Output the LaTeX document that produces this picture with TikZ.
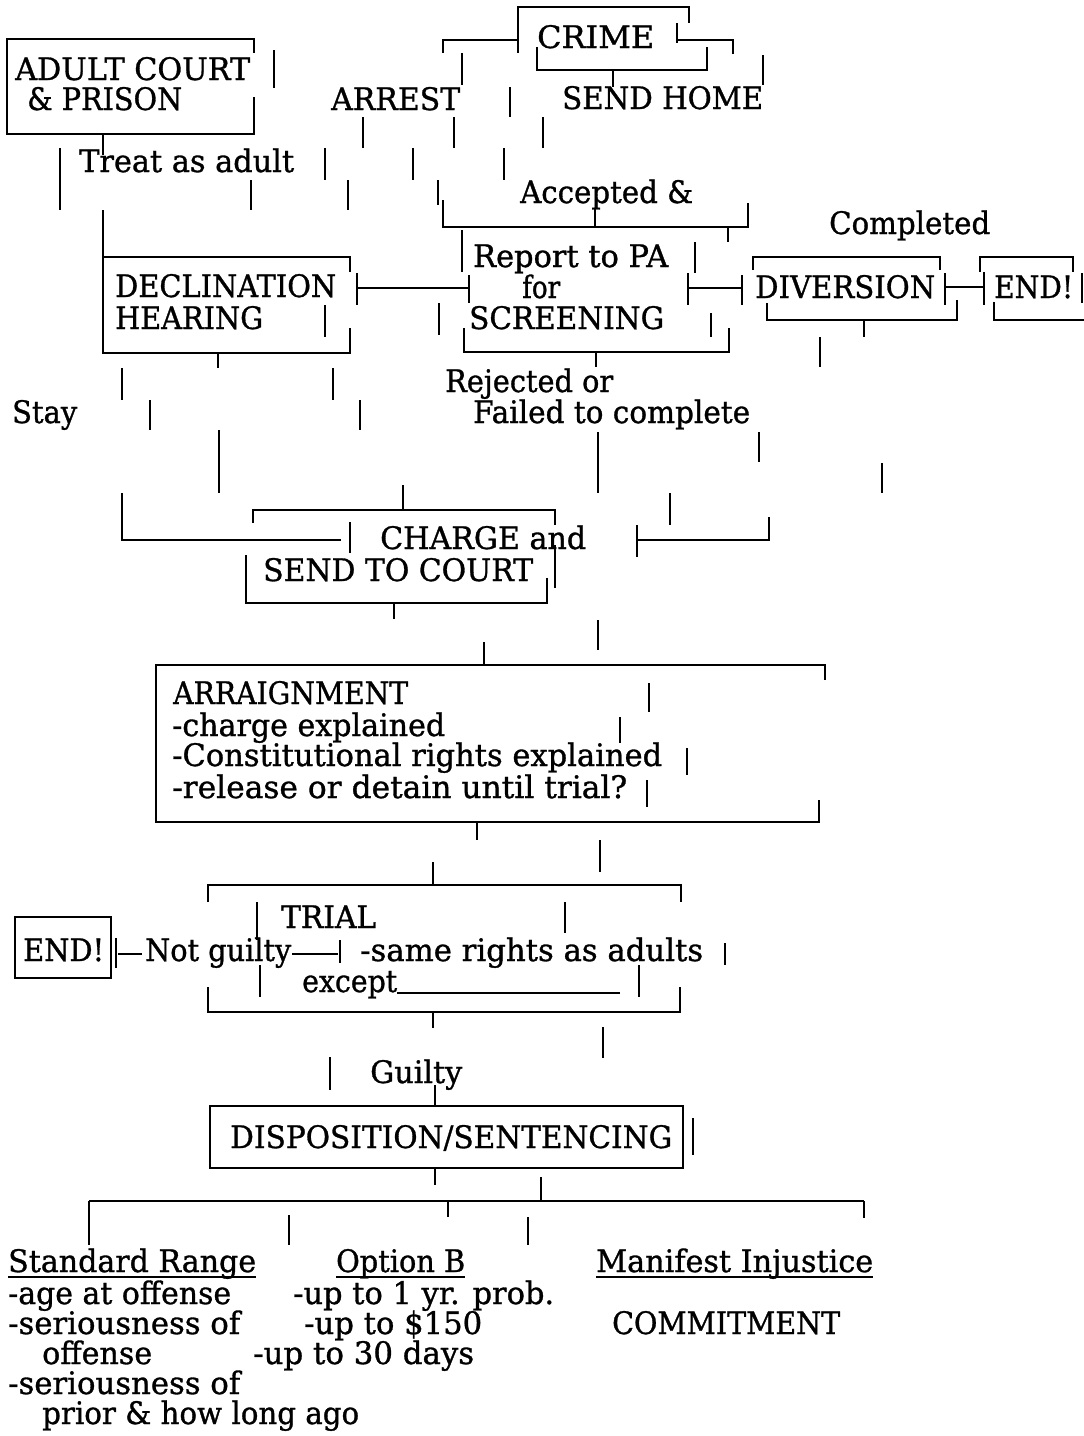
\documentclass[tikz,border=0pt]{standalone}
\usepackage{fontspec}
\setmainfont[FakeBold=1.0]{DejaVu Serif}
\usepackage{graphicx}
\newcommand\tx[2]{\resizebox{#1pt}{\height}{#2}}
\begin{document}
\begin{tikzpicture}[x=1pt,y=-1pt,
  ln/.style={line width=1.7pt,line cap=butt,line join=miter},
  txt/.style={anchor=base west,inner sep=0pt,font=\fontsize{31}{36}\selectfont}]
\useasboundingbox (0,0) rectangle (1084,1436);
\fill[white] (0,0) rectangle (1084,1436);
% ---------- texts ----------
\node[txt] (crime) at (537,48) {\tx{117}{CRIME}};
\node[txt] (adult1) at (15,80) {\tx{235}{ADULT COURT}};
\node[txt] (adult2) at (27,110) {\tx{155}{\& PRISON}};
\node[txt] (arrest) at (331,110) {\tx{129}{ARREST}};
\node[txt] (sendhome) at (562,109) {\tx{201}{SEND HOME}};
\node[txt] (treat) at (79,172) {\tx{215}{Treat as adult}};
\node[txt] (accepted) at (520,203) {\tx{173}{Accepted \&}};
\node[txt] (completed) at (829,234) {\tx{161}{Completed}};
\node[txt] (report1) at (473,267) {\tx{195}{Report to PA}};
\node[txt] (report2) at (522,298) {\tx{38}{for}};
\node[txt] (report3) at (469,329) {\tx{195}{SCREENING}};
\node[txt] (decl1) at (115,297) {\tx{221}{DECLINATION}};
\node[txt] (decl2) at (115,329) {\tx{148}{HEARING}};
\node[txt] (diversion) at (755,298) {\tx{180}{DIVERSION}};
\node[txt] (end1) at (994,298) {\tx{79}{END!}};
\node[txt] (rejected1) at (445,392) {\tx{168}{Rejected or}};
\node[txt] (rejected2) at (473,423) {\tx{277}{Failed to complete}};
\node[txt] (stay) at (12,423) {\tx{65}{Stay}};
\node[txt] (charge1) at (380,549) {\tx{206}{CHARGE and}};
\node[txt] (charge2) at (263,581) {\tx{270}{SEND TO COURT}};
\node[txt] (arr1) at (173,704) {\tx{235}{ARRAIGNMENT}};
\node[txt] (arr2) at (172,736) {\tx{273}{-charge explained}};
\node[txt] (arr3) at (172,766) {\tx{490}{-Constitutional rights explained}};
\node[txt] (arr4) at (172,798) {\tx{455}{-release or detain until trial?}};
\node[txt] (trial1) at (281,928) {\tx{95}{TRIAL}};
\node[txt] (trial2) at (360,961) {\tx{343}{-same rights as adults}};
\node[txt] (trial3) at (302,992) {\tx{95}{except}};
\node[txt] (notguilty) at (145,961) {\tx{146}{Not guilty}};
\node[txt] (end2) at (23,961) {\tx{81}{END!}};
\node[txt] (guilty) at (370,1083) {\tx{92}{Guilty}};
\node[txt] (disp) at (230,1148) {\tx{442}{DISPOSITION/SENTENCING}};
\node[txt] (std) at (8,1272) {\tx{248}{Standard Range}};
\node[txt] (optb) at (336,1272) {\tx{129}{Option B}};
\node[txt] (mi) at (596,1272) {\tx{277}{Manifest Injustice}};
\node[txt] (s1) at (8,1304) {\tx{223}{-age at offense}};
\node[txt] (s2) at (8,1334) {\tx{232}{-seriousness of}};
\node[txt] (s3) at (42,1364) {\tx{110}{offense}};
\node[txt] (s4) at (8,1394) {\tx{232}{-seriousness of}};
\node[txt] (s5) at (42,1424) {\tx{317}{prior \& how long ago}};
\node[txt] (b1) at (293,1304) {\tx{261}{-up to 1 yr. prob.}};
\node[txt] (b2) at (304,1334) {\tx{178}{-up to \$150}};
\node[txt] (b3) at (253,1364) {\tx{221}{-up to 30 days}};
\node[txt] (commit) at (612,1334) {\tx{228}{COMMITMENT}};
% underlines
\draw[ln] ([yshift=-5pt]std.base west) -- ([yshift=-5pt]std.base east);
\draw[ln] ([yshift=-5pt]optb.base west) -- ([yshift=-5pt]optb.base east);
\draw[ln] ([yshift=-5pt]mi.base west) -- ([yshift=-5pt]mi.base east);
\draw[ln] ([yshift=-1pt]trial3.base east) -- ++(223,0);
% ---------- broken boxes and connectors ----------
\draw[ln] (518,53)--(518,7)--(689,7)--(689,23);
\draw[ln] (443,53)--(443,40)--(518,40);
\draw[ln] (537,47)--(537,70)--(707,70)--(707,47);
\draw[ln] (677,40)--(733,40)--(733,54);
\draw[ln] (254,53)--(254,39)--(7,39)--(7,134)--(254,134)--(254,97);
\draw[ln] (443,200)--(443,227)--(748,227)--(748,203);
\draw[ln] (350,272)--(350,257)--(103,257);
\draw[ln] (103,210)--(103,353)--(350,353)--(350,328);
\draw[ln] (357,288)--(469,288);
\draw[ln] (688,288)--(742,288);
\draw[ln] (464,328)--(464,352)--(729,352)--(729,328);
\draw[ln] (753,270)--(753,257)--(940,257)--(940,270);
\draw[ln] (945,287)--(984,287);
\draw[ln] (767,303)--(767,320)--(957,320)--(957,300);
\draw[ln] (980,272)--(980,257)--(1073,257)--(1073,272);
\draw[ln] (994,302)--(994,320)--(1084,320);
\draw[ln] (122,493)--(122,540)--(341,540);
\draw[ln] (253,523)--(253,510)--(555,510)--(555,525);
\draw[ln] (555,545)--(555,588);
\draw[ln] (246,555)--(246,603)--(547,603)--(547,578);
\draw[ln] (637,540)--(769,540)--(769,517);
\draw[ln] (825,680)--(825,665)--(156,665)--(156,822)--(819,822)--(819,800);
\draw[ln] (208,902)--(208,885)--(681,885)--(681,902);
\draw[ln] (208,987)--(208,1012)--(680,1012)--(680,987);
\draw[ln] (15,917) rectangle (111,978);
\draw[ln] (118,954)--(142,954);
\draw[ln] (292,954)--(338,954);
\draw[ln] (210,1106) rectangle (683,1168);
\draw[ln] (89,1201)--(864,1201);
\foreach \x/\a/\b in {613/70/87, 677/23/43, 763/55/85, 462/53/85,
  274/50/88, 103/134/155, 60/148/210, 251/180/210, 325/148/180, 348/180/210,
  363/117/148, 413/148/180, 438/180/205, 454/117/148, 504/148/180, 510/87/117, 543/117/148,
  595/208/227, 728/227/242,
  462/230/272, 357/273/305, 469/275/303, 695/242/273, 688/273/305, 742/275/305,
  439/303/335, 711/313/337, 596/352/367, 325/305/337, 218/353/368,
  945/273/305, 984/272/305, 864/320/337, 820/337/367, 1082/273/303,
  122/368/400, 333/368/400, 150/400/430, 360/400/430, 219/430/493,
  598/432/493, 759/432/462, 882/463/493,
  350/522/553, 403/485/510, 670/493/525, 637/525/557, 394/603/619, 598/620/650, 484/642/665,
  649/683/712, 620/717/743, 687/748/775, 647/780/807, 477/822/840, 600/840/872,
  433/862/885, 257/902/940, 565/902/933, 116/938/968, 340/940/963, 725/943/965,
  260/965/997, 639/965/997, 433/1012/1028, 603/1027/1058, 330/1057/1090, 435/1085/1106,
  693/1118/1155, 435/1168/1185, 541/1177/1201, 448/1201/1217, 864/1201/1218,
  89/1201/1245, 289/1215/1245, 528/1217/1245}
  \draw[ln] (\x,\a) -- (\x,\b);
\end{tikzpicture}
\end{document}
